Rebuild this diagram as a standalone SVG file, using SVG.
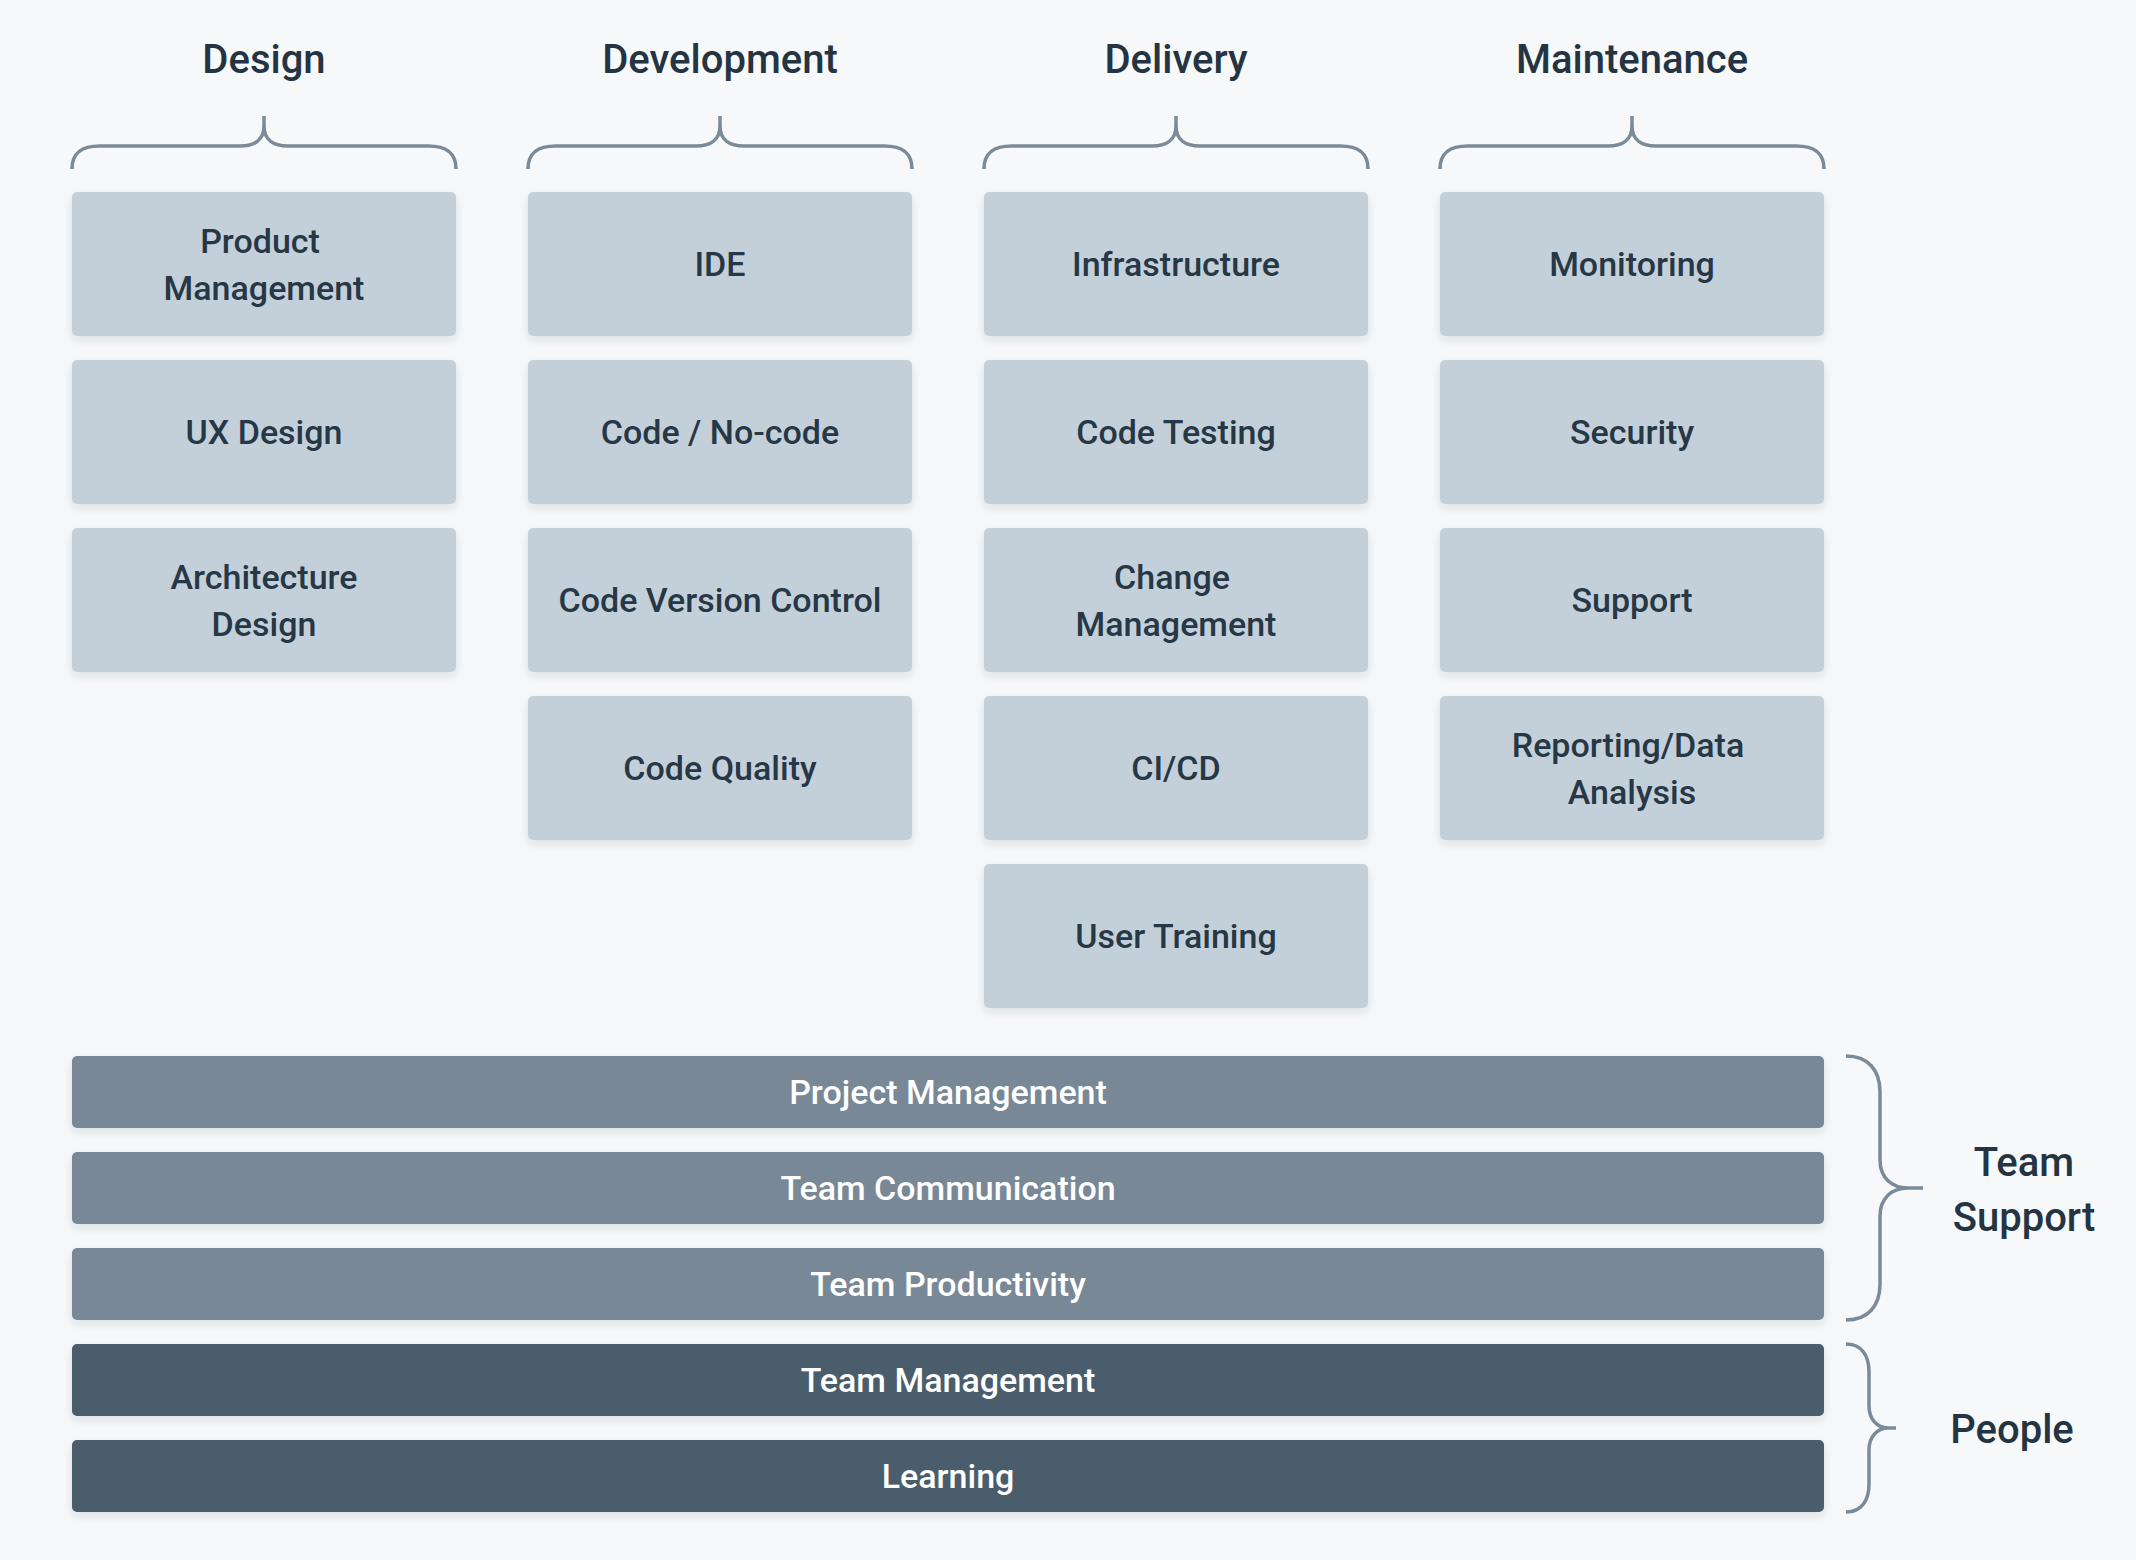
<svg xmlns="http://www.w3.org/2000/svg" width="2136" height="1560" viewBox="0 0 2136 1560">
  <style>
    text { font-family: Roboto, "Noto Sans", "Liberation Sans", sans-serif; font-weight: 500; text-anchor: middle; }
    .title { font-size: 40px; fill: #243443; }
    .lbl { font-size: 34px; fill: #263746; }
    .lbl-w { font-size: 34px; fill: #ffffff; }
    .box { fill: #c4d0d9; filter: url(#shadow); }
    .bar { fill: #788897; filter: url(#shadow); }
    .bar-dark { fill: #4a5d6c; filter: url(#shadow); }
    .brace { fill: none; stroke: #7a8a99; stroke-width: 3.5; stroke-linejoin: round; }
  </style>
  <defs>
    <filter id="shadow" x="-5%" y="-20%" width="110%" height="150%">
      <feDropShadow dx="0" dy="4" stdDeviation="5" flood-color="#1f2d3a" flood-opacity="0.12"/>
    </filter>
  </defs>

  <rect width="2136" height="1560" fill="#f7f8fa"/>

  <!-- Column headings -->
  <g id="headings">
    <text class="title" x="264" y="73">Design</text>
    <text class="title" x="720" y="73">Development</text>
    <text class="title" x="1176" y="73">Delivery</text>
    <text class="title" x="1632" y="73">Maintenance</text>
  </g>

  <!-- Braces -->
  <g id="connectors">
    <path class="brace" d="M72,169 C72,154 80,146 100,146 L240,146 C254,146 264,140 264,126 L264,116 M264,126 C264,140 274,146 288,146 L428,146 C448,146 456,154 456,169"/>
    <path class="brace" d="M528,169 C528,154 536,146 556,146 L696,146 C710,146 720,140 720,126 L720,116 M720,126 C720,140 730,146 744,146 L884,146 C904,146 912,154 912,169"/>
    <path class="brace" d="M984,169 C984,154 992,146 1012,146 L1152,146 C1166,146 1176,140 1176,126 L1176,116 M1176,126 C1176,140 1186,146 1200,146 L1340,146 C1360,146 1368,154 1368,169"/>
    <path class="brace" d="M1440,169 C1440,154 1448,146 1468,146 L1608,146 C1622,146 1632,140 1632,126 L1632,116 M1632,126 C1632,140 1642,146 1656,146 L1796,146 C1816,146 1824,154 1824,169"/>
    <path class="brace" d="M1846,1056 C1868,1056 1880,1070 1880,1092 L1880,1160 C1880,1178 1892,1188 1908,1188 L1923,1188 M1908,1188 C1892,1188 1880,1198 1880,1216 L1880,1284 C1880,1306 1868,1320 1846,1320"/>
    <path class="brace" d="M1846,1344 C1862,1344 1869,1356 1869,1372 L1869,1406 C1869,1420 1878,1428 1888,1428 L1896,1428 M1888,1428 C1878,1428 1869,1436 1869,1450 L1869,1484 C1869,1500 1862,1512 1846,1512"/>
  </g>

  <!-- Design -->
  <g id="product-management">
    <rect class="box" x="72" y="192" width="384" height="144" rx="5"/>
    <text class="lbl" x="260" y="253">Product</text>
    <text class="lbl" x="264" y="300">Management</text>
  </g>
  <g id="ux-design">
    <rect class="box" x="72" y="360" width="384" height="144" rx="5"/>
    <text class="lbl" x="264" y="444">UX Design</text>
  </g>
  <g id="architecture-design">
    <rect class="box" x="72" y="528" width="384" height="144" rx="5"/>
    <text class="lbl" x="264" y="589">Architecture</text>
    <text class="lbl" x="264" y="636">Design</text>
  </g>

  <!-- Development -->
  <g id="ide">
    <rect class="box" x="528" y="192" width="384" height="144" rx="5"/>
    <text class="lbl" x="720" y="276">IDE</text>
  </g>
  <g id="code-no-code">
    <rect class="box" x="528" y="360" width="384" height="144" rx="5"/>
    <text class="lbl" x="720" y="444">Code / No-code</text>
  </g>
  <g id="code-version-control">
    <rect class="box" x="528" y="528" width="384" height="144" rx="5"/>
    <text class="lbl" x="720" y="612">Code Version Control</text>
  </g>
  <g id="code-quality">
    <rect class="box" x="528" y="696" width="384" height="144" rx="5"/>
    <text class="lbl" x="720" y="780">Code Quality</text>
  </g>

  <!-- Delivery -->
  <g id="infrastructure">
    <rect class="box" x="984" y="192" width="384" height="144" rx="5"/>
    <text class="lbl" x="1176" y="276">Infrastructure</text>
  </g>
  <g id="code-testing">
    <rect class="box" x="984" y="360" width="384" height="144" rx="5"/>
    <text class="lbl" x="1176" y="444">Code Testing</text>
  </g>
  <g id="change-management">
    <rect class="box" x="984" y="528" width="384" height="144" rx="5"/>
    <text class="lbl" x="1172" y="589">Change</text>
    <text class="lbl" x="1176" y="636">Management</text>
  </g>
  <g id="ci-cd">
    <rect class="box" x="984" y="696" width="384" height="144" rx="5"/>
    <text class="lbl" x="1176" y="780">CI/CD</text>
  </g>
  <g id="user-training">
    <rect class="box" x="984" y="864" width="384" height="144" rx="5"/>
    <text class="lbl" x="1176" y="948">User Training</text>
  </g>

  <!-- Maintenance -->
  <g id="monitoring">
    <rect class="box" x="1440" y="192" width="384" height="144" rx="5"/>
    <text class="lbl" x="1632" y="276">Monitoring</text>
  </g>
  <g id="security">
    <rect class="box" x="1440" y="360" width="384" height="144" rx="5"/>
    <text class="lbl" x="1632" y="444">Security</text>
  </g>
  <g id="support">
    <rect class="box" x="1440" y="528" width="384" height="144" rx="5"/>
    <text class="lbl" x="1632" y="612">Support</text>
  </g>
  <g id="reporting-data-analysis">
    <rect class="box" x="1440" y="696" width="384" height="144" rx="5"/>
    <text class="lbl" x="1628" y="757">Reporting/Data</text>
    <text class="lbl" x="1632" y="804">Analysis</text>
  </g>

  <!-- Team support bars -->
  <g id="project-management">
    <rect class="bar" x="72" y="1056" width="1752" height="72" rx="5"/>
    <text class="lbl-w" x="948" y="1104">Project Management</text>
  </g>
  <g id="team-communication">
    <rect class="bar" x="72" y="1152" width="1752" height="72" rx="5"/>
    <text class="lbl-w" x="948" y="1200">Team Communication</text>
  </g>
  <g id="team-productivity">
    <rect class="bar" x="72" y="1248" width="1752" height="72" rx="5"/>
    <text class="lbl-w" x="948" y="1296">Team Productivity</text>
  </g>

  <!-- People bars -->
  <g id="team-management">
    <rect class="bar-dark" x="72" y="1344" width="1752" height="72" rx="5"/>
    <text class="lbl-w" x="948" y="1392">Team Management</text>
  </g>
  <g id="learning">
    <rect class="bar-dark" x="72" y="1440" width="1752" height="72" rx="5"/>
    <text class="lbl-w" x="948" y="1488">Learning</text>
  </g>

  <!-- Side labels -->
  <g id="team-support-label">
    <text class="title" x="2024" y="1176">Team</text>
    <text class="title" x="2024" y="1231">Support</text>
  </g>
  <g id="people-label">
    <text class="title" x="2012" y="1443">People</text>
  </g>
</svg>
